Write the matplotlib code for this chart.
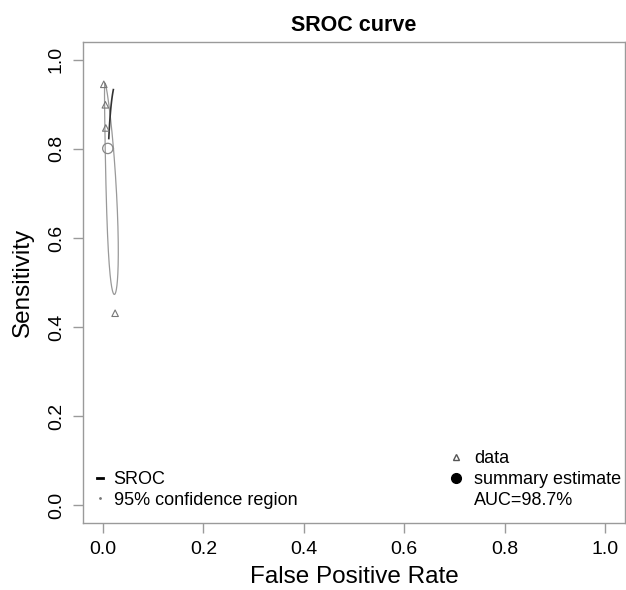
import numpy as np
import matplotlib
matplotlib.use("Agg")
import matplotlib.pyplot as plt
from matplotlib.lines import Line2D

plt.rcParams['font.family'] = ['Liberation Sans', 'DejaVu Sans']

# study data (false positive rate, sensitivity)
data_fpr = [0.0014, 0.0046, 0.0054, 0.024]
data_sens = [0.945, 0.899, 0.847, 0.431]

# summary estimate
summary_fpr = 0.0094
summary_sens = 0.801

# SROC line (logit-linear), drawn over this fpr range
sroc_alpha = 9.75
sroc_beta = 1.84
sroc_fpr_range = [0.0114, 0.0205]

# 95% confidence region in logit space
conf_half_height = 1.5
conf_slope = -0.59
conf_half_width = 0.8

auc_text = "AUC=98.7%"


def logit(p):
    return np.log(p / (1 - p))


def expit(z):
    return 1 / (1 + np.exp(-z))


fig = plt.figure(figsize=(6.26, 5.9), dpi=100)
ax = fig.add_axes([83 / 626, (590 - 523) / 590, (625 - 83) / 626, (523 - 42) / 590])

grey = '#9a9a9a'

# confidence region
t = np.linspace(0, 2 * np.pi, 300)
mx, my = logit(summary_fpr), logit(summary_sens)
ey = my + conf_half_height * np.sin(t)
ex = mx + conf_slope * conf_half_height * np.sin(t) + conf_half_width * np.cos(t)
ax.plot(expit(ex), expit(ey), color='#999999', lw=0.9)

# SROC
f = np.linspace(sroc_fpr_range[0], sroc_fpr_range[1], 50)
ax.plot(f, expit(sroc_alpha + sroc_beta * logit(f)), color='#333333', lw=1.2)

# data & summary
ax.scatter(data_fpr, data_sens, marker='^', s=22, facecolors='none',
           edgecolors='#777777', linewidths=0.8, zorder=3)
ax.scatter([summary_fpr], [summary_sens], marker='o', s=55, facecolors='none',
           edgecolors='#888888', linewidths=0.9, zorder=3)

ax.set_xlim(-0.04, 1.04)
ax.set_ylim(-0.04, 1.04)
ticks = [0.0, 0.2, 0.4, 0.6, 0.8, 1.0]
ax.set_xticks(ticks)
ax.set_yticks(ticks)
ax.set_xticklabels([f"{v:.1f}" for v in ticks], fontsize=14)
ax.set_yticklabels([f"{v:.1f}" for v in ticks], fontsize=14, rotation=90, va='center')
ax.tick_params(direction='out', length=7, color=grey, width=1, pad=6)
for s in ax.spines.values():
    s.set_color(grey)
    s.set_linewidth(1)

ax.set_xlabel("False Positive Rate", fontsize=17.5, labelpad=6)
ax.set_ylabel("Sensitivity", fontsize=17.5, labelpad=10)
ax.set_title("SROC curve", fontsize=15.5, fontweight='bold', pad=8)

# legends
h1 = [Line2D([], [], color='black', lw=2),
      Line2D([], [], color='#777777', lw=1, ls='none', marker='.', markersize=2)]
leg1 = ax.legend(h1, ["SROC", "95% confidence region"], loc='lower left',
                 frameon=False, fontsize=13, handlelength=0.3,
                 handletextpad=0.6, borderaxespad=0.5, borderpad=0.3,
                 labelspacing=0.2)
ax.add_artist(leg1)

h2 = [Line2D([], [], ls='none', marker='^', markersize=5, markerfacecolor='none',
             markeredgecolor='#555555'),
      Line2D([], [], ls='none', marker='o', markersize=7, color='black'),
      Line2D([], [], ls='none')]
ax.legend(h2, ["data", "summary estimate", auc_text], loc='lower right',
          bbox_to_anchor=(1.02, 0.0), frameon=False, fontsize=13,
          handlelength=0.4, handletextpad=0.8, borderaxespad=0.5,
          borderpad=0.3, labelspacing=0.2)

fig.savefig("out.png", dpi=100)
